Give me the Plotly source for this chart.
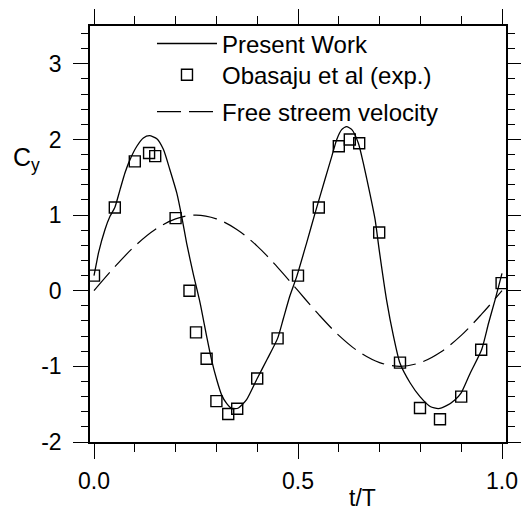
import plotly.graph_objects as go

# Present work (numerical) lift coefficient
t_model = [0.000, 0.007, 0.011, 0.027, 0.039, 0.051, 0.064, 0.076, 0.088, 0.105,
           0.121, 0.136, 0.154, 0.170, 0.186, 0.203, 0.215, 0.227, 0.243, 0.260,
           0.276, 0.288, 0.301, 0.313, 0.325, 0.338, 0.354, 0.374, 0.400, 0.425,
           0.450, 0.464, 0.480, 0.497, 0.521, 0.542, 0.566, 0.583, 0.595, 0.607,
           0.619, 0.632, 0.648, 0.660, 0.676, 0.689, 0.699, 0.717, 0.734, 0.750,
           0.775, 0.799, 0.824, 0.844, 0.864, 0.885, 0.900, 0.922, 0.950, 0.967,
           0.983, 1.000]
cy_model = [0.20, 0.39, 0.50, 0.81, 0.98, 1.10, 1.34, 1.56, 1.73, 1.91,
            2.02, 2.05, 2.01, 1.87, 1.60, 1.29, 0.98, 0.63, 0.23, -0.16,
            -0.60, -0.91, -1.18, -1.38, -1.49, -1.56, -1.55, -1.44, -1.16, -0.90,
            -0.63, -0.37, -0.07, 0.19, 0.63, 1.03, 1.47, 1.78, 2.00, 2.13,
            2.17, 2.13, 1.95, 1.69, 1.29, 0.94, 0.54, -0.12, -0.60, -0.96,
            -1.22, -1.40, -1.53, -1.56, -1.52, -1.44, -1.35, -1.09, -0.78, -0.43,
            -0.12, 0.23]

# Experimental data (Obasaju et al.)
t_exp = [0.000, 0.051, 0.100, 0.135, 0.150, 0.200, 0.234, 0.250, 0.276, 0.300,
         0.329, 0.351, 0.400, 0.450, 0.500, 0.551, 0.600, 0.627, 0.650, 0.699,
         0.750, 0.799, 0.848, 0.900, 0.949, 0.999]
cy_exp = [0.20, 1.10, 1.71, 1.82, 1.78, 0.96, 0.00, -0.55, -0.90, -1.46,
          -1.63, -1.56, -1.16, -0.63, 0.20, 1.10, 1.91, 2.00, 1.95, 0.77,
          -0.95, -1.55, -1.70, -1.40, -0.78, 0.10]

# Free stream velocity (normalised)
t_free = [0.00, 0.05, 0.10, 0.15, 0.20, 0.25, 0.30, 0.35, 0.40, 0.45, 0.50,
          0.55, 0.60, 0.65, 0.70, 0.75, 0.80, 0.85, 0.90, 0.95, 1.00]
u_free = [0.00, 0.31, 0.59, 0.81, 0.95, 1.00, 0.95, 0.81, 0.59, 0.31, 0.00,
          -0.31, -0.59, -0.81, -0.95, -1.00, -0.95, -0.81, -0.59, -0.31, 0.00]

x_tickvals = [0.0, 0.5, 1.0]
x_ticktext = ["0.0", "0.5", "1.0"]
y_tickvals = [-2, -1, 0, 1, 2, 3]
y_ticktext = ["-2", "-1", "0", "1", "2", "3"]

x_range = [-0.0098, 1.0098]
y_range = [-2.0, 3.5]

FONT = "Liberation Sans, Arial, sans-serif"

fig = go.Figure()
fig.add_trace(go.Scatter(
    x=t_model, y=cy_model, mode="lines", name="Present Work",
    line=dict(color="black", width=1.3, shape="spline", smoothing=0.6),
    legend="legend"))
fig.add_trace(go.Scatter(
    x=t_exp, y=cy_exp, mode="markers", name="Obasaju et al (exp.)",
    marker=dict(symbol="square-open", size=11, color="black", line=dict(width=1.4)),
    legend="legend2"))
fig.add_trace(go.Scatter(
    x=t_free, y=u_free, mode="lines", name="Free streem velocity",
    line=dict(color="black", width=1.2, dash="24px,8px", shape="spline", smoothing=1.0),
    legend="legend3"))

axis_common = dict(
    showgrid=False, zeroline=False, showline=True, linecolor="black", linewidth=1.5,
    mirror="allticks", ticks="outside", ticklen=15, tickwidth=1.3, tickcolor="black",
    tickfont=dict(family=FONT, size=23, color="black"), tickmode="array",
)

fig.update_xaxes(range=x_range, tickvals=x_tickvals, ticktext=x_ticktext,
                 ticklabelstandoff=3,
                 minor=dict(tickmode="linear", tick0=0, dtick=0.1, ticklen=8,
                            ticks="outside", tickwidth=1.2, tickcolor="black",
                            showgrid=False),
                 **axis_common)
fig.update_yaxes(range=y_range, tickvals=y_tickvals, ticktext=y_ticktext,
                 ticklabelstandoff=7,
                 minor=dict(tickmode="linear", tick0=0, dtick=0.2, ticklen=7,
                            ticks="outside", tickwidth=1.2, tickcolor="black",
                            showgrid=False),
                 **axis_common)

fig.add_annotation(text="t/T", xref="paper", yref="paper", x=0.654, y=-0.098,
                   xanchor="center", yanchor="top", showarrow=False,
                   font=dict(family=FONT, size=23, color="black"))
fig.add_annotation(text="C<sub>y</sub>", xref="paper", yref="paper", x=-0.19, y=0.68,
                   xanchor="left", yanchor="middle", showarrow=False,
                   font=dict(family=FONT, size=25, color="black"))

leg_common = dict(xanchor="left", yanchor="middle", bgcolor="rgba(0,0,0,0)",
                  borderwidth=0, itemwidth=60,
                  font=dict(family=FONT, size=24, color="black"))

fig.update_layout(
    width=521, height=506,
    margin=dict(l=90, r=15, t=26, b=64, autoexpand=False),
    paper_bgcolor="white", plot_bgcolor="white",
    font=dict(family=FONT, size=22, color="black"),
    showlegend=True,
    legend=dict(x=0.149, y=0.957, **leg_common),
    legend2=dict(x=0.149, y=0.882, **leg_common),
    legend3=dict(x=0.149, y=0.793, **leg_common),
)

# remove the default page margin so the figure fills the window exactly
fig.write_html("out.html",
               config={"displayModeBar": False},
               post_script="document.body.style.margin='0';"
                           "document.body.style.overflow='hidden';")
